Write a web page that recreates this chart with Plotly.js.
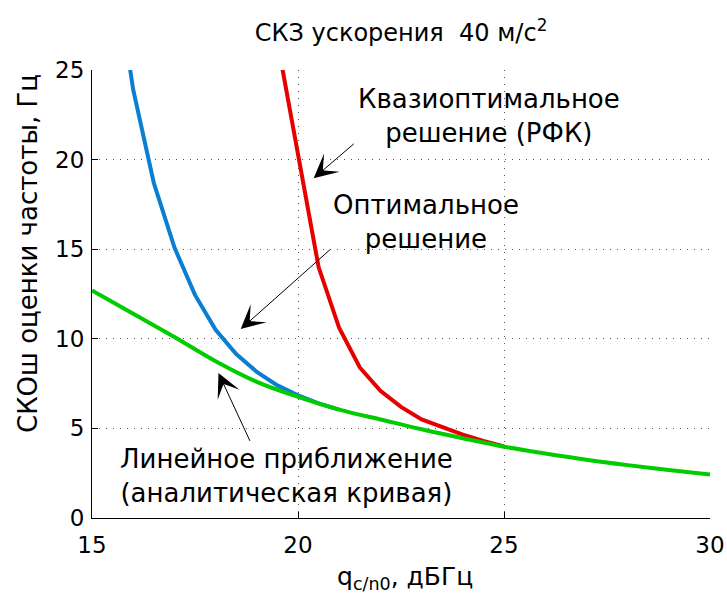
<!DOCTYPE html>
<html>
<head>
<meta charset="utf-8">
<script src="https://cdn.plot.ly/plotly-3.0.1.min.js"></script>
<style>html,body{margin:0;padding:0;background:#fff;}#chart{width:727px;height:596px;}</style>
</head>
<body>
<div id="chart"></div>
<script>
// q_c/n0, dBHz
const xGreen = [15, 16, 17, 18, 19, 20, 21, 22, 23, 24, 25, 26, 27, 28, 29, 30];
const yGreen = [12.7, 11.4, 10.1, 8.75, 7.6, 6.76, 6.05, 5.5, 4.95, 4.45, 3.98, 3.6, 3.25, 2.95, 2.68, 2.43];

const xBlue = [15.5, 16, 16.5, 17, 17.5, 18, 18.5, 19, 19.5, 20, 20.5, 21];
const yBlue = [31.5, 23.9, 18.7, 15.1, 12.45, 10.5, 9.15, 8.15, 7.4, 6.85, 6.4, 6.05];

const xRed = [19.5, 20, 20.5, 21, 21.5, 22, 22.5, 23, 23.5, 24, 24.5, 25];
const yRed = [26.6, 20.3, 14.0, 10.6, 8.4, 7.1, 6.2, 5.5, 5.05, 4.65, 4.3, 4.0];

const xTicks = [15, 20, 25, 30];
const yTicks = [0, 5, 10, 15, 20, 25];

const FONT = "DejaVu Sans, Liberation Sans, Arial, sans-serif";

const traces = [
  {x: xRed, y: yRed, mode: 'lines', line: {color: '#e60000', width: 4}, hoverinfo: 'skip'},
  {x: xBlue, y: yBlue, mode: 'lines', line: {color: '#0a7fd2', width: 4}, hoverinfo: 'skip'},
  {x: xGreen, y: yGreen, mode: 'lines', line: {color: '#00cc00', width: 4, shape: 'spline'}, hoverinfo: 'skip'}
];

const annFont = {family: FONT, size: 26, color: '#000'};
const layout = {
  width: 727, height: 596,
  margin: {l: 92, r: 17, t: 70, b: 78},
  paper_bgcolor: '#fff', plot_bgcolor: '#fff',
  showlegend: false,
  font: {family: FONT, color: '#000'},
  title: {
    text: 'СКЗ ускорения  40 м/с<sup>2</sup>',
    font: {family: FONT, size: 24, color: '#000'},
    x: 0.5, xref: 'paper', y: 0.945, yref: 'container', yanchor: 'middle'
  },
  xaxis: {
    range: [15, 30], tickvals: xTicks, ticktext: xTicks.map(String),
    ticks: 'inside', ticklen: 6, tickcolor: '#000', tickwidth: 1,
    showline: true, linecolor: '#000', linewidth: 1, mirror: false,
    showgrid: true, gridcolor: '#555', griddash: '1px,6px', gridwidth: 1,
    zeroline: false, ticklabelstandoff: 6,
    tickfont: {family: FONT, size: 23, color: '#000'}
  },
  yaxis: {
    range: [0, 25], tickvals: yTicks, ticktext: yTicks.map(String),
    ticks: 'inside', ticklen: 6, tickcolor: '#000', tickwidth: 1,
    showline: true, linecolor: '#000', linewidth: 1, mirror: false,
    showgrid: true, gridcolor: '#555', griddash: '1px,6px', gridwidth: 1,
    zeroline: false, ticklabelstandoff: 2,
    tickfont: {family: FONT, size: 23, color: '#000'}
  },
  annotations: [
    {x: 20.38, y: 18.96, xref: 'x', yref: 'y', ax: 21.39, ay: 20.95, axref: 'x', ayref: 'y',
     showarrow: true, arrowhead: 3, arrowsize: 4, arrowwidth: 1, arrowcolor: '#000', text: ''},
    {x: 18.61, y: 10.54, xref: 'x', yref: 'y', ax: 20.82, ay: 15.06, axref: 'x', ayref: 'y',
     showarrow: true, arrowhead: 3, arrowsize: 4, arrowwidth: 1, arrowcolor: '#000', text: ''},
    {x: 18.07, y: 8.09, xref: 'x', yref: 'y', ax: 18.85, ay: 4.22, axref: 'x', ayref: 'y',
     showarrow: true, arrowhead: 3, arrowsize: 4, arrowwidth: 1, arrowcolor: '#000', text: ''},
    {x: 489, y: 116, text: 'Квазиоптимальное<br>решение (РФК)', showarrow: false, font: annFont, align: 'center'},
    {x: 426, y: 222, text: 'Оптимальное<br>решение', showarrow: false, font: annFont, align: 'center'},
    {x: 286, y: 476, text: 'Линейное приближение<br>(аналитическая кривая)', showarrow: false, font: annFont, align: 'center'},
    // axis titles placed as annotations
    {x: 405, y: 578, text: 'q<sub>c/n0</sub>, дБГц', showarrow: false, font: {family: FONT, size: 25, color: '#000'}},
    {x: 28, y: 254, text: 'СКОш оценки частоты, Гц', showarrow: false, textangle: -90, font: {family: FONT, size: 26, color: '#000'}}
  ]
};

// convert pixel-placed text annotation positions to paper coordinates
const plotL = 92, plotW = 727 - 92 - 17, plotT = 70, plotH = 596 - 70 - 78;
layout.annotations.forEach(a => {
  if (!a.showarrow) {
    a.xref = 'paper'; a.yref = 'paper';
    a.x = (a.x - plotL) / plotW;
    a.y = 1 - (a.y - plotT) / plotH;
    a.xanchor = 'center'; a.yanchor = 'middle';
  }
});

Plotly.newPlot('chart', traces, layout, {staticPlot: true});
</script>
</body>
</html>
